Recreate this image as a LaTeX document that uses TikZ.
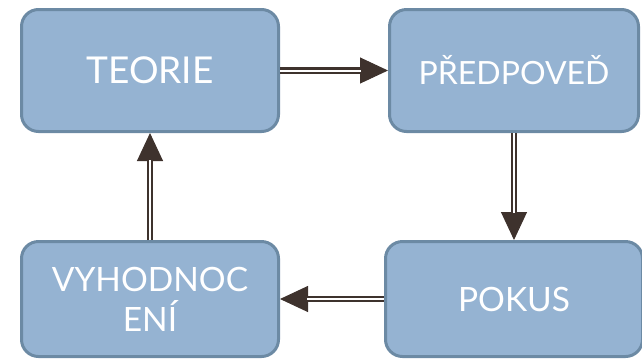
\documentclass[tikz,border=0pt]{standalone}
\usepackage{fontspec}
\newfontfamily\boxfont{Lato}
\usetikzlibrary{arrows.meta}
\definecolor{boxfill}{RGB}{149,179,210}
\definecolor{boxline}{RGB}{108,138,164}
\definecolor{arrowc}{RGB}{62,50,45}
\tikzset{
  stage/.style = {draw=boxline, fill=boxfill, line width=3pt, rounded corners=17pt, align=center, text=white, inner sep=0pt},
  tipline/.style = {-{Triangle[length=28pt, width=26pt]}, draw=arrowc, fill=arrowc, line width=1pt},
  shaft/.style = {draw=arrowc, double=white, double distance=2pt, line width=2.4pt, shorten >=27pt}
}
\begin{document}
\begin{tikzpicture}[x=1pt, y=-1pt]
  \useasboundingbox (0,0) rectangle (642,360);

  \node[stage, minimum width=257pt, minimum height=122pt,
        font=\boxfont\fontsize{37}{44}\selectfont] (teorie) at (150,70.5) {TEORIE};
  \node[stage, minimum width=249pt, minimum height=122pt,
        font=\boxfont\fontsize{32}{38}\selectfont] (predpoved) at (514,70.5) {PŘEDPOVEĎ};
  \node[stage, minimum width=257pt, minimum height=115pt,
        font=\boxfont\fontsize{33.5}{40}\selectfont] (pokus) at (514,299) {POKUS};
  \node[stage, minimum width=257pt, minimum height=115pt,
        font=\boxfont\fontsize{33.5}{40}\selectfont] (vyhod) at (150,299) {VYHODNOC\\ENÍ};

  \foreach \a/\b in {teorie/predpoved, predpoved/pokus, pokus/vyhod, vyhod/teorie} {
    \draw[tipline] (\a) -- (\b);
    \draw[shaft] (\a) -- (\b);
  }
\end{tikzpicture}
\end{document}
